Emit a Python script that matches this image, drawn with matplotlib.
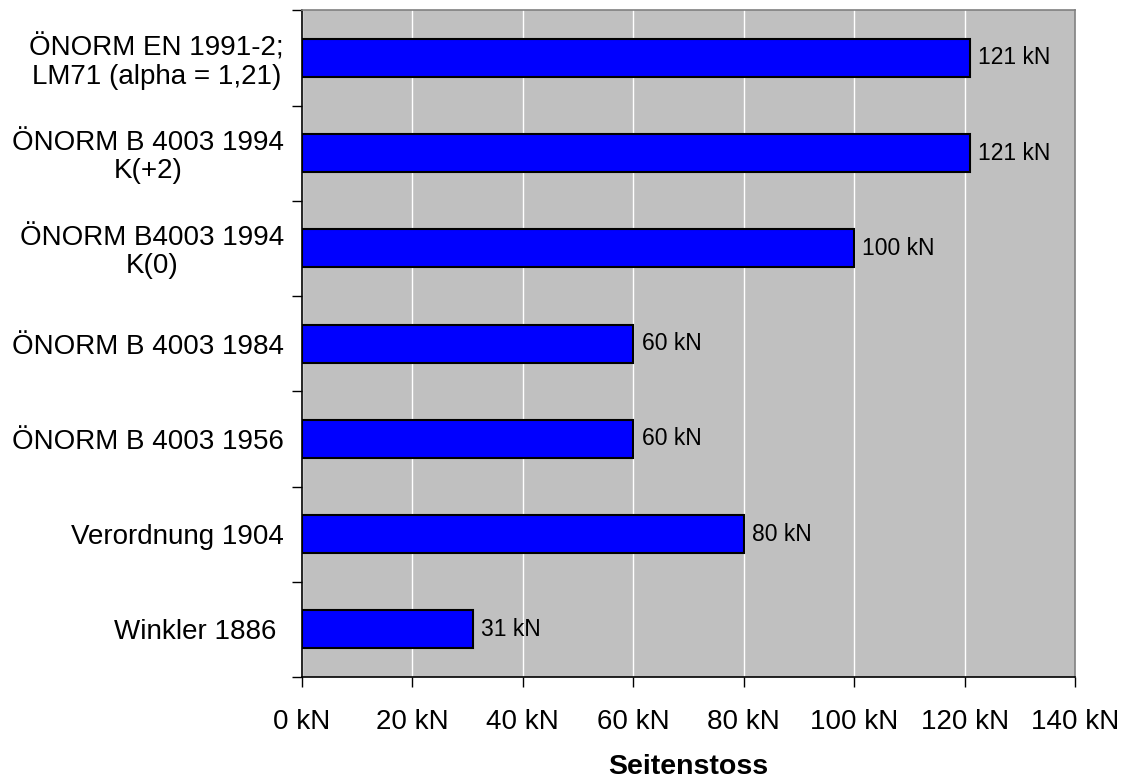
import matplotlib.pyplot as plt
from matplotlib.ticker import FuncFormatter, MultipleLocator

plt.rcParams['font.family'] = ['Liberation Sans', 'DejaVu Sans']

labels = ['ÖNORM EN 1991-2;\nLM71 (alpha = 1,21)',
          'ÖNORM B 4003 1994\nK(+2)',
          'ÖNORM B4003 1994\nK(0)',
          'ÖNORM B 4003 1984',
          'ÖNORM B 4003 1956',
          'Verordnung 1904',
          'Winkler 1886 ']
seitenstoss = [121, 121, 100, 60, 60, 80, 31]

fig = plt.figure(figsize=(11.31, 7.82), dpi=100)
ax = fig.add_axes([0.267, 0.1343, 0.6835, 0.8525])
ax.set_facecolor('#c0c0c0')

pos = list(range(len(labels)))[::-1]
ax.barh(pos, seitenstoss, height=0.4, color='#0000ff', edgecolor='black', linewidth=1.5, zorder=3)

for y, v in zip(pos, seitenstoss):
    ax.annotate(f'{v} kN', (v, y), xytext=(6, 0), textcoords='offset points',
                va='center', ha='left', fontsize=16.5, zorder=4)

ax.set_xlim(0, 140)
ax.set_ylim(-0.5, len(labels) - 0.5)
ax.xaxis.set_major_locator(MultipleLocator(20))
ax.xaxis.set_major_formatter(FuncFormatter(lambda x, p: f'{x:.0f} kN'))
ax.grid(axis='x', color='white', linewidth=1, zorder=1)

# category labels sit between the boundary ticks
ax.set_yticks([p - 0.5 for p in range(len(labels))] + [len(labels) - 0.5])
ax.set_yticklabels([])
ax.set_yticks(pos, labels, minor=True)
ax.tick_params(axis='y', which='minor', length=0, pad=13, labelsize=20)
ax.tick_params(axis='y', which='major', length=7, width=1)
ax.tick_params(axis='x', length=7, width=1, pad=16, labelsize=20)
for t in ax.get_yticklabels(minor=True):
    t.set_multialignment('center')
    t.set_linespacing(1.1)

ax.set_xlabel('Seitenstoss', fontsize=20.5, fontweight='bold', labelpad=14)

for s in ['left', 'bottom']:
    ax.spines[s].set_color('black')
    ax.spines[s].set_linewidth(1.2)
for s in ['top', 'right']:
    ax.spines[s].set_color('#808080')
    ax.spines[s].set_linewidth(1.2)

fig.savefig('out.png', dpi=100)
